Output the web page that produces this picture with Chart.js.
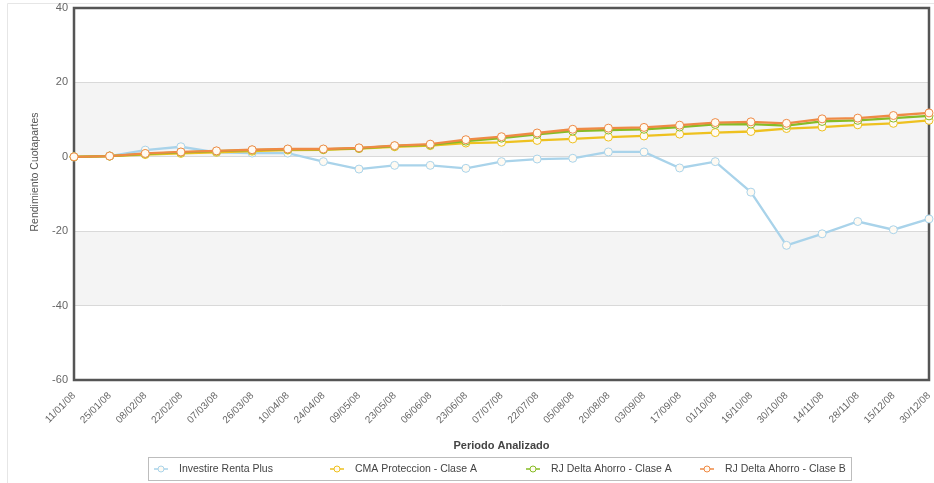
<!DOCTYPE html>
<html>
<head>
<meta charset="utf-8">
<script src="https://cdn.jsdelivr.net/npm/chart.js@4.4.1/dist/chart.umd.min.js"></script>
<style>
html,body{margin:0;padding:0;background:#fff;}
#wrap{position:relative;width:934px;height:483px;}
</style>
</head>
<body>
<div id="wrap"><canvas id="c" width="934" height="483"></canvas></div>
<script>
const categories = ["11/01/08","25/01/08","08/02/08","22/02/08","07/03/08","26/03/08","10/04/08","24/04/08","09/05/08","23/05/08","06/06/08","23/06/08","07/07/08","22/07/08","05/08/08","20/08/08","03/09/08","17/09/08","01/10/08","16/10/08","30/10/08","14/11/08","28/11/08","15/12/08","30/12/08"];
const seriesNames = ["Investire Renta Plus","CMA Proteccion - Clase A","RJ Delta Ahorro - Clase A","RJ Delta Ahorro - Clase B"];
const investire = [0, 0.2, 1.8, 2.7, 1.2, 1.0, 1.0, -1.3, -3.3, -2.3, -2.3, -3.1, -1.3, -0.6, -0.4, 1.3, 1.3, -3.0, -1.3, -9.5, -23.8, -20.7, -17.4, -19.6, -16.7];
const cma = [0, 0.2, 0.6, 0.9, 1.2, 1.5, 1.8, 1.9, 2.2, 2.7, 3.0, 3.7, 3.9, 4.4, 4.8, 5.3, 5.6, 6.1, 6.5, 6.8, 7.6, 8.0, 8.6, 9.0, 9.8];
const rjA = [0, 0.2, 0.8, 1.2, 1.5, 1.8, 2.0, 2.0, 2.3, 2.9, 3.2, 4.2, 5.0, 6.0, 6.9, 7.2, 7.4, 8.0, 8.7, 8.8, 8.4, 9.5, 9.8, 10.4, 11.0];
const rjB = [0, 0.2, 0.9, 1.3, 1.6, 1.9, 2.1, 2.1, 2.4, 3.0, 3.4, 4.6, 5.4, 6.4, 7.4, 7.7, 7.9, 8.5, 9.2, 9.4, 9.0, 10.2, 10.4, 11.1, 11.8];
const yTicks = [40, 20, 0, -20, -40, -60];
const yTitle = "Rendimiento Cuotapartes";
const xTitle = "Periodo Analizado";

const colors = ["#a9d3ea", "#eec11f", "#86bc25", "#ef8a45"];
const FONT = "'Liberation Sans', Arial, sans-serif";

function ds(label, data, color, order) {
  return {
    label, data, borderColor: color, backgroundColor: color,
    borderWidth: 2.3, pointRadius: 4, pointBorderWidth: 1,
    pointBackgroundColor: "#fffaf2", pointBorderColor: color,
    tension: 0, order
  };
}

const bgPlugin = {
  id: "bg",
  beforeDraw(chart) {
    const {ctx, chartArea: a, scales: {y}} = chart;
    ctx.save();
    ctx.strokeStyle = "#e6e6e6"; ctx.lineWidth = 1;
    ctx.beginPath(); ctx.moveTo(7.5, 483); ctx.lineTo(7.5, 3.5); ctx.lineTo(934, 3.5); ctx.stroke();
    ctx.fillStyle = "#f4f4f4";
    [[20, 0], [-20, -40]].forEach(([t, b]) => {
      const yt = y.getPixelForValue(t), yb = y.getPixelForValue(b);
      ctx.fillRect(a.left, yt, a.right - a.left, yb - yt);
    });
    ctx.restore();
  },
  beforeDatasetsDraw(chart) {
    const {ctx, chartArea: a} = chart;
    ctx.save();
    ctx.strokeStyle = "#555"; ctx.lineWidth = 2.5;
    ctx.strokeRect(a.left, a.top, a.right - a.left, a.bottom - a.top);
    ctx.restore();
  },
  afterDraw(chart) {
    const {ctx} = chart;
    ctx.save();
    ctx.translate(35, 172);
    ctx.rotate(-Math.PI / 2);
    ctx.font = "10.5px " + FONT;
    ctx.fillStyle = "#555";
    ctx.textAlign = "center"; ctx.textBaseline = "middle";
    ctx.fillText(yTitle, 0, 0);
    ctx.restore();

    ctx.save();
    ctx.strokeStyle = "#bdbdbd"; ctx.lineWidth = 1;
    ctx.strokeRect(148.5, 457.5, 703, 23);
    const markerX = [161, 337, 533, 707];
    ctx.font = "10.5px " + FONT;
    ctx.textBaseline = "middle";
    chart.data.datasets.forEach((d, i) => {
      const mx = markerX[i], my = 469;
      ctx.strokeStyle = d.borderColor; ctx.lineWidth = 1.5;
      ctx.beginPath(); ctx.moveTo(mx - 7, my); ctx.lineTo(mx + 7, my); ctx.stroke();
      ctx.fillStyle = "#fffaf2"; ctx.lineWidth = 1;
      ctx.beginPath(); ctx.arc(mx, my, 3, 0, Math.PI * 2); ctx.fill(); ctx.stroke();
      ctx.fillStyle = "#444";
      ctx.fillText(d.label, mx + 18, my);
    });
    ctx.restore();
  }
};

new Chart(document.getElementById("c"), {
  type: "line",
  data: {
    labels: categories,
    datasets: [
      ds(seriesNames[0], investire, colors[0], 4),
      ds(seriesNames[1], cma, colors[1], 3),
      ds(seriesNames[2], rjA, colors[2], 2),
      ds(seriesNames[3], rjB, colors[3], 1)
    ]
  },
  options: {
    responsive: false,
    animation: false,
    layout: { padding: { top: 8, right: 4, bottom: 30, left: 0 } },
    plugins: { legend: { display: false }, tooltip: { enabled: false } },
    scales: {
      x: {
        offset: false,
        grid: { display: false },
        border: { display: false },
        ticks: { color: "#666", font: { family: FONT, size: 10 }, minRotation: 45, maxRotation: 45, autoSkip: false, padding: 2 },
        title: { display: true, text: xTitle, color: "#444", font: { family: FONT, size: 11, weight: "bold" }, padding: { top: 6, bottom: 0 } },
        afterFit(s) { s.height = 73; s.paddingLeft = 0; s.paddingRight = 0; }
      },
      y: {
        min: -60, max: 40,
        afterBuildTicks(s) { s.ticks = yTicks.map(v => ({ value: v })); },
        grid: { color: "#d9d9d9", lineWidth: 1, drawTicks: false },
        border: { display: false },
        ticks: { color: "#666", font: { family: FONT, size: 11 }, padding: 6 },
        afterFit(s) { s.width = 74; s.paddingTop = 0; s.paddingBottom = 0; }
      }
    }
  },
  plugins: [bgPlugin]
});
</script>
</body>
</html>
